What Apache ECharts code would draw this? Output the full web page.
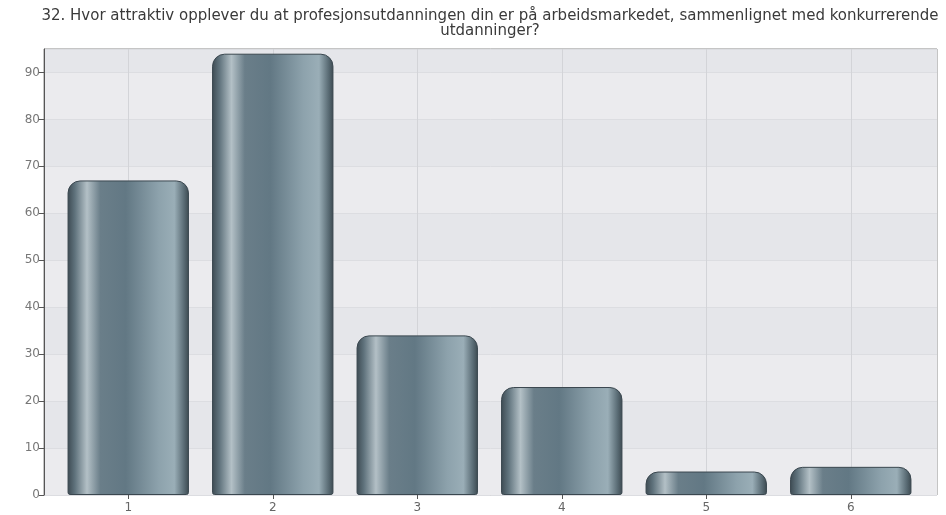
<!DOCTYPE html>
<html>
<head>
<meta charset="utf-8">
<script src="https://cdn.jsdelivr.net/npm/echarts@6/dist/echarts.min.js"></script>
<style>html,body{margin:0;padding:0;background:#fff}#c{width:946px;height:515px}</style>
</head>
<body>
<div id="c"></div>
<script>
var titleText = '32. Hvor attraktiv opplever du at profesjonsutdanningen din er på arbeidsmarkedet, sammenlignet med konkurrerende\nutdanninger?';
var categories = ['1', '2', '3', '4', '5', '6'];
var values = [67, 94, 34, 23, 5, 6];
var yMin = 0, yMax = 95, yInterval = 10;

var chart = echarts.init(document.getElementById('c'));
var barGradient = new echarts.graphic.LinearGradient(0, 0, 1, 0, [
  {offset: 0, color: '#3d4a52'},
  {offset: 0.06, color: '#5f727c'},
  {offset: 0.16, color: '#b3c0c6'},
  {offset: 0.27, color: '#6a7e89'},
  {offset: 0.48, color: '#627884'},
  {offset: 0.75, color: '#8da2ac'},
  {offset: 0.88, color: '#9aaeb7'},
  {offset: 0.96, color: '#596b74'},
  {offset: 1, color: '#3c4950'}
]);
chart.setOption({
  animation: false,
  backgroundColor: '#ffffff',
  title: {
    text: titleText,
    left: 490,
    textAlign: 'center',
    top: 9,
    padding: 0,
    textStyle: {fontFamily: 'DejaVu Sans', fontSize: 15, fontWeight: 'normal', color: '#3a3a3a', lineHeight: 15}
  },
  grid: [
    {left: 44, right: 9, top: 49, bottom: 20, show: true, backgroundColor: '#e9eaed', borderColor: '#8a8a8a', borderWidth: 1},
    {left: 56, right: 23, top: 49, bottom: 20}
  ],
  xAxis: [
    {gridIndex: 0, type: 'category', data: categories, show: false},
    {gridIndex: 1, type: 'category', data: categories,
      axisLine: {show: false},
      axisTick: {show: true, alignWithLabel: true, length: 4, lineStyle: {color: '#555'}},
      axisLabel: {fontFamily: 'DejaVu Sans', fontSize: 12, color: '#666', margin: 7},
      splitLine: {show: false}}
  ],
  yAxis: [
    {gridIndex: 0, type: 'value', min: yMin, max: yMax, interval: yInterval,
      axisLine: {show: true, lineStyle: {color: '#555'}},
      axisTick: {show: true, length: 5, lineStyle: {color: '#555'}},
      axisLabel: {fontFamily: 'DejaVu Sans', fontSize: 12, color: '#777', margin: 4, showMaxLabel: false},
      splitLine: {show: true, lineStyle: {color: '#dcdde1', width: 1}},
      splitArea: {show: true, areaStyle: {color: ['#ebebee', '#e5e6ea']}}},
    {gridIndex: 1, type: 'value', min: yMin, max: yMax, interval: yInterval, show: false}
  ],
  series: [
    {
      type: 'line', xAxisIndex: 1, yAxisIndex: 1, data: [], z: 1, silent: true,
      markLine: {
        silent: true, z: 1, symbol: ['none', 'none'], label: {show: false},
        lineStyle: {color: '#d3d4d8', width: 1, type: 'solid'},
        data: categories.map(function (c) { return {xAxis: c}; })
      }
    },
    {
      type: 'bar', xAxisIndex: 1, yAxisIndex: 1, data: values, z: 10,
      barWidth: '84%',
      itemStyle: {color: barGradient, borderColor: '#3a474f', borderWidth: 1, borderRadius: [12, 12, 2, 2]}
    }
  ]
});
</script>
</body>
</html>
